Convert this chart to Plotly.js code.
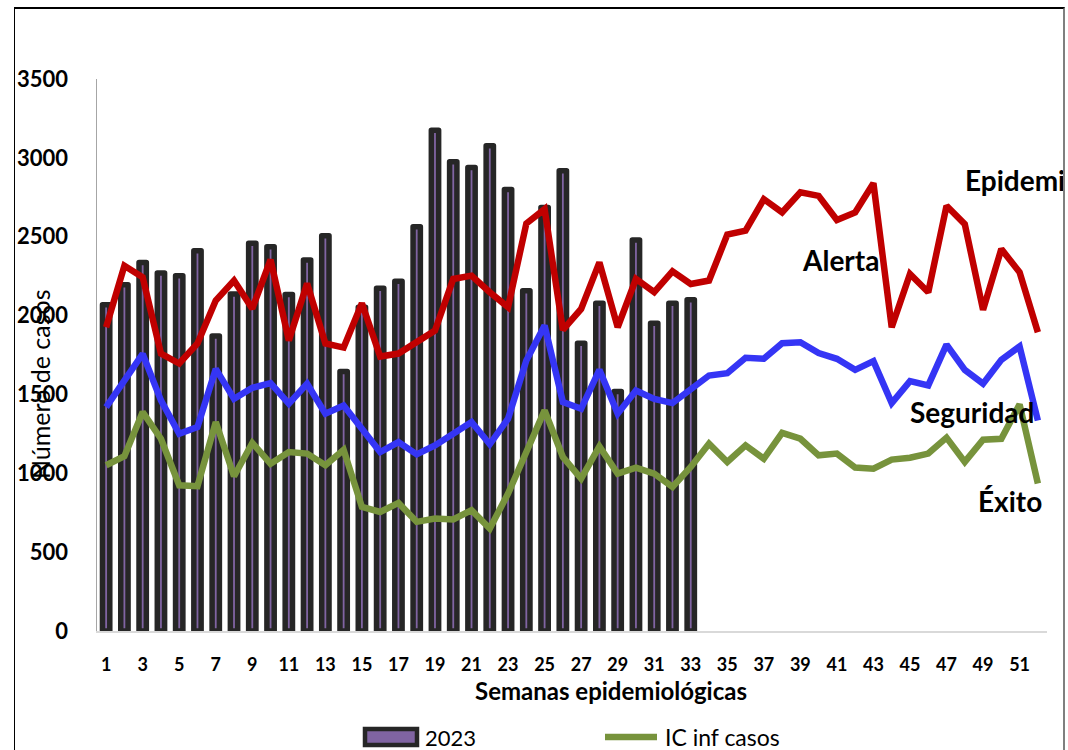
<!DOCTYPE html>
<html>
<head>
<meta charset="utf-8">
<script src="https://cdn.plot.ly/plotly-3.0.1.min.js"></script>
<style>
  html, body { margin: 0; padding: 0; background: #ffffff; }
  #wrap { position: relative; width: 1068px; height: 750px; overflow: hidden; background: #fff; }
  #chart { position: absolute; left: 0; top: 0; width: 1063px; height: 750px; }
  #frame { position: absolute; left: 14px; top: 7px; width: 1048px; height: 760px;
           border-left: 1.5px solid #000; border-top: 2px solid #000; border-right: 2px solid #7f7f7f;
           pointer-events: none; }
  .trace.bars .point path { stroke-linejoin: round; }
</style>
</head>
<body>
<div id="wrap">
  <div id="chart"></div>
  <div id="frame"></div>
</div>
<script>
// ---- data ----
const weeks = [1,2,3,4,5,6,7,8,9,10,11,12,13,14,15,16,17,18,19,20,21,22,23,24,25,26,
               27,28,29,30,31,32,33,34,35,36,37,38,39,40,41,42,43,44,45,46,47,48,49,50,51,52];
const weeks2023 = [1,2,3,4,5,6,7,8,9,10,11,12,13,14,15,16,17,18,19,20,21,22,23,24,25,26,
                   27,28,29,30,31,32,33];
const cases2023 = [2068,2196,2337,2270,2253,2411,1871,2137,2458,2437,2133,2352,2506,1646,2053,
                   2173,2217,2563,3175,2976,2939,3076,2800,2158,2686,2918,1825,2078,1519,2479,
                   1951,2078,2100];
const epidemia = [1926,2316,2243,1759,1696,1823,2095,2222,2044,2354,1842,2203,1823,1797,2078,
                  1740,1759,1831,1905,2232,2253,2148,2053,2584,2675,1909,2042,2337,1926,2232,
                  2148,2280,2200,2222,2513,2538,2738,2654,2781,2759,2606,2654,2839,1926,2264,
                  2148,2696,2580,2036,2422,2274,1894];
const seguridad = [1420,1589,1757,1462,1251,1293,1662,1472,1542,1572,1441,1568,1378,1430,1290,
                   1135,1198,1120,1177,1251,1325,1184,1346,1715,1937,1452,1409,1656,1378,1525,
                   1472,1445,1530,1620,1635,1732,1726,1825,1831,1762,1726,1656,1711,1445,1584,
                   1557,1816,1656,1568,1719,1804,1335];
const icInfCasos = [1051,1108,1388,1219,924,918,1325,981,1192,1061,1135,1125,1051,1149,787,
                    755,812,692,713,707,766,650,871,1125,1399,1103,966,1171,998,1036,
                    998,914,1040,1188,1072,1177,1092,1256,1219,1114,1125,1036,1029,1087,1099,
                    1125,1226,1072,1213,1219,1437,935];
const xTickVals = [1,3,5,7,9,11,13,15,17,19,21,23,25,27,29,31,33,35,37,39,41,43,45,47,49,51];
const xTickText = ["1","3","5","7","9","11","13","15","17","19","21","23","25","27","29","31",
                   "33","35","37","39","41","43","45","47","49","51"];
const yTickVals = [0,500,1000,1500,2000,2500,3000,3500];
const yTickText = ["0","500","1000","1500","2000","2500","3000","3500"];

// ---- styles ----
const FONT = "Lato, 'Open Sans', sans-serif";
const cBarFill = "#8064A2", cBarLine = "#262626";
const cRed = "#C00000", cBlue = "#3535F5", cGreen = "#77933C";

const traces = [
  { type: "bar", name: "2023", x: weeks2023, y: cases2023, width: 0.4, cliponaxis: false,
    marker: { color: cBarFill, line: { color: cBarLine, width: 5.5 } }, showlegend: false },
  { type: "scatter", mode: "lines", name: "Epidemia", x: weeks, y: epidemia,
    line: { color: cRed, width: 6.5 }, showlegend: false },
  { type: "scatter", mode: "lines", name: "Seguridad", x: weeks, y: seguridad,
    line: { color: cBlue, width: 6.5 }, showlegend: false },
  { type: "scatter", mode: "lines", name: "IC inf casos", x: weeks, y: icInfCasos,
    line: { color: cGreen, width: 6.5 }, showlegend: false }
];

// pixel helpers for paper coordinates (plot area 97..1047 x, 79..631 y)
const px = v => (v - 97) / 950;
const py = v => (631 - v) / 552;

const boldAnno = (text, x, y, anchor) => ({
  text: text, xref: "paper", yref: "paper", x: px(x), y: py(y), xanchor: anchor, yanchor: "middle",
  showarrow: false, font: { family: FONT, size: 28, color: "#000", weight: 700 }
});

const layout = {
  width: 1063, height: 750,
  margin: { l: 97, r: 16, t: 79, b: 119 },
  paper_bgcolor: "rgba(0,0,0,0)", plot_bgcolor: "rgba(0,0,0,0)",
  showlegend: false,
  xaxis: {
    range: [0.5, 52.5], tickmode: "array", tickvals: xTickVals, ticktext: xTickText,
    showgrid: false, zeroline: false, showline: true, linecolor: "#d9d9d9", linewidth: 2,
    ticks: "", ticklabelstandoff: 16,
    tickfont: { family: FONT, size: 18, color: "#000", weight: 700 }
  },
  yaxis: {
    range: [0, 3500], tickmode: "array", tickvals: yTickVals, ticktext: yTickText,
    showgrid: false, zeroline: false, showline: true, linecolor: "#a6a6a6", linewidth: 1.5,
    ticks: "", ticklabelstandoff: 23,
    tickfont: { family: FONT, size: 22, color: "#000", weight: 700 }
  },
  annotations: [
    boldAnno("Epidemia", 963, 180, "left"),
    boldAnno("Alerta", 800, 260, "left"),
    boldAnno("Seguridad", 908, 412, "left"),
    boldAnno("Éxito", 976, 501, "left"),
    { text: "Semanas epidemiológicas", xref: "paper", yref: "paper", x: px(611), y: py(690),
      xanchor: "center", yanchor: "middle", showarrow: false,
      font: { family: FONT, size: 24, color: "#000", weight: 700 } },
    { text: "Número de casos", xref: "paper", yref: "paper", x: px(40), y: py(384),
      xanchor: "center", yanchor: "middle", textangle: -90, showarrow: false,
      font: { family: FONT, size: 25, color: "#000" } },
    { text: "2023", xref: "paper", yref: "paper", x: px(423), y: py(737),
      xanchor: "left", yanchor: "middle", showarrow: false,
      font: { family: FONT, size: 22, color: "#000" } },
    { text: "IC inf casos", xref: "paper", yref: "paper", x: px(663), y: py(737),
      xanchor: "left", yanchor: "middle", showarrow: false,
      font: { family: FONT, size: 23, color: "#000" } }
  ],
  shapes: [
    { type: "rect", xref: "paper", yref: "paper", x0: px(365), x1: px(417), y0: py(729), y1: py(745),
      fillcolor: cBarFill, line: { color: cBarLine, width: 4.5 } },
    { type: "line", xref: "paper", yref: "paper", x0: px(605), x1: px(657), y0: py(737), y1: py(737),
      line: { color: cGreen, width: 6.5 } }
  ]
};

Plotly.newPlot("chart", traces, layout, { displayModeBar: false, staticPlot: true });
</script>
</body>
</html>
